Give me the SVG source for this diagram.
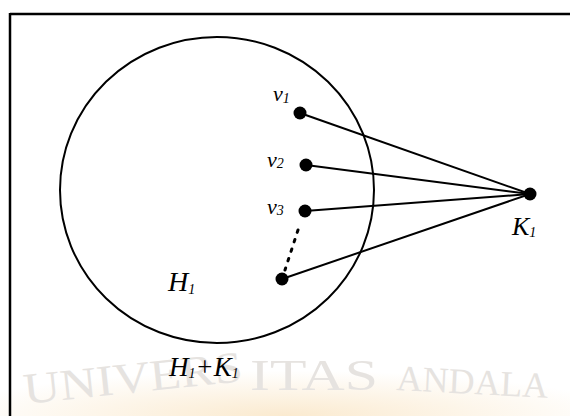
<svg xmlns="http://www.w3.org/2000/svg" width="570" height="416" viewBox="0 0 570 416">
  <defs>
    <style>
      .lbl { font-family: "Liberation Serif", "Times New Roman", serif; font-style: italic; fill: #000; }
      .sub { font-size: 14px; }
      .edge { stroke: #000; stroke-width: 2; fill: none; }
      .dot { fill: #000; }
      .wm { font-family: "Liberation Serif", "Times New Roman", serif; font-size: 44px; fill: #e6e3e0; }
    </style>
    <radialGradient id="glow" cx="0.5" cy="1" r="0.6">
      <stop offset="0" stop-color="#f7d9a8" stop-opacity="0.55"/>
      <stop offset="1" stop-color="#f7d9a8" stop-opacity="0"/>
    </radialGradient>
  </defs>
  <rect width="570" height="416" fill="#fff"/>
  <rect x="0" y="340" width="570" height="76" fill="url(#glow)"/>
  <g id="watermark">
    <text class="wm" x="25" y="404" transform="rotate(-6 25 404)" textLength="220" lengthAdjust="spacingAndGlyphs">UNIVERS</text>
    <text class="wm" x="250" y="390" textLength="128" lengthAdjust="spacingAndGlyphs">ITAS</text>
    <text class="wm" x="396" y="390" transform="rotate(3 396 390)" style="font-size:36px">ANDALA</text>
  </g>

  <g id="frame">
    <line x1="10" y1="14" x2="570" y2="14" stroke="#000" stroke-width="2.5"/>
    <line x1="10" y1="13" x2="10" y2="416" stroke="#000" stroke-width="2.5"/>
  </g>

  <g id="H1">
    <ellipse cx="217" cy="190" rx="157" ry="153" fill="none" stroke="#000" stroke-width="2"/>
    <text class="lbl" x="168" y="291" font-size="28">H<tspan class="sub" dy="3">1</tspan></text>
  </g>

  <g id="connectors">
    <line class="edge" x1="300" y1="113" x2="530" y2="194"/>
    <line class="edge" x1="306" y1="165" x2="530" y2="194"/>
    <line class="edge" x1="305" y1="211" x2="530" y2="194"/>
    <line class="edge" x1="282" y1="279" x2="530" y2="194"/>
    <line x1="298" y1="230" x2="285" y2="270" stroke="#000" stroke-width="3" stroke-dasharray="2.5 7.5" stroke-linecap="round"/>
  </g>

  <g id="v1">
    <circle class="dot" cx="300" cy="113" r="6.5"/>
    <text class="lbl" x="273" y="101" font-size="22">v<tspan class="sub" dy="2">1</tspan></text>
  </g>
  <g id="v2">
    <circle class="dot" cx="306" cy="165" r="6.5"/>
    <text class="lbl" x="267" y="167" font-size="22">v<tspan class="sub" dy="1">2</tspan></text>
  </g>
  <g id="v3">
    <circle class="dot" cx="305" cy="211" r="6.5"/>
    <text class="lbl" x="267" y="214" font-size="22">v<tspan class="sub" dy="1">3</tspan></text>
  </g>
  <g id="v4">
    <circle class="dot" cx="282" cy="279" r="6.5"/>
  </g>
  <g id="K1">
    <circle class="dot" cx="530" cy="194" r="6.5"/>
    <text class="lbl" x="512" y="235" font-size="26">K<tspan class="sub" dy="2">1</tspan></text>
  </g>

  <g id="label-sum">
    <text class="lbl" x="169" y="376" font-size="27">H<tspan class="sub" dy="2">1</tspan><tspan dy="-2">+K</tspan><tspan class="sub" dy="2">1</tspan></text>
  </g>
</svg>
